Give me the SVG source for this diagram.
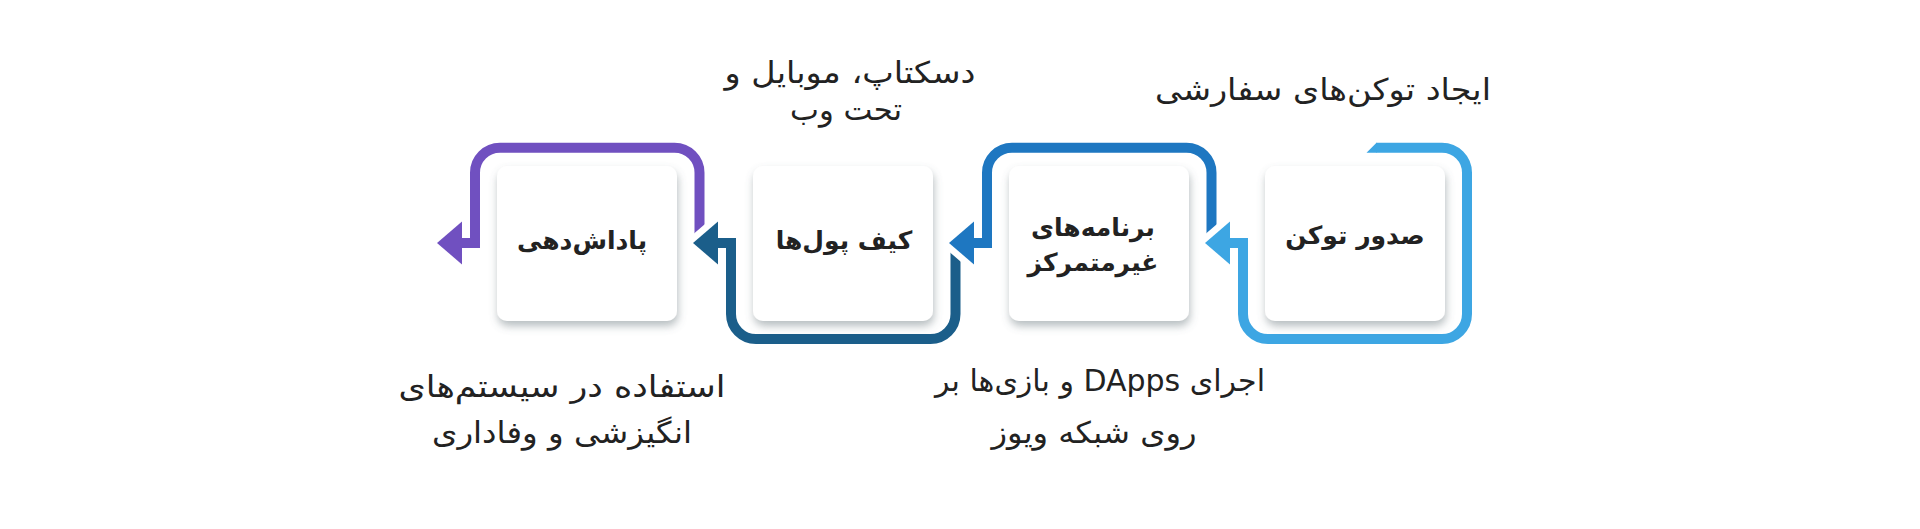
<svg xmlns="http://www.w3.org/2000/svg" width="1920" height="529" viewBox="0 0 1920 529">
<defs>
<filter id="sh" x="-20%" y="-20%" width="140%" height="150%">
<feDropShadow dx="1" dy="5" stdDeviation="4.5" flood-color="#5f6f75" flood-opacity="0.45"/>
</filter>
</defs>
<style>
.box{fill:#ffffff;filter:url(#sh)}
.lbl{font-family:"DejaVu Sans",sans-serif;font-weight:bold;font-size:25px;fill:#222222;text-anchor:middle;direction:rtl}
.note{font-family:"DejaVu Sans",sans-serif;font-size:30px;fill:#222222;text-anchor:middle;direction:rtl}
.ln{fill:none;stroke-width:10;stroke-linejoin:miter}
.halo{fill:#ffffff;stroke:#ffffff;stroke-width:13;stroke-linejoin:round}
.c1{stroke:#7050c0}
.f1{fill:#7050c0}
.c2{stroke:#1b5e8a}
.f2{fill:#1b5e8a}
.c3{stroke:#1e77c1}
.f3{fill:#1e77c1}
.c4{stroke:#3da6e3}
.f4{fill:#3da6e3}
</style>
<rect width="1920" height="529" fill="#ffffff"/>
<g id="connectors">
<path class="ln c1" d="M699.5,240 V172.7 A25,25 0 0 0 674.5,147.7 H500 A25,25 0 0 0 475,172.7 V243 H460"/>
<polygon class="f1" points="462,221.5 437,243 462,264.5"/>
<polygon class="halo" points="718,221.5 693,243 718,264.5"/>
<path class="ln c2" d="M955.5,250 V314 A25,25 0 0 1 930.5,339 H756 A25,25 0 0 1 731,314 V243 H716"/>
<polygon class="f2" points="718,221.5 693,243 718,264.5"/>
<polygon class="halo" points="974,221.5 949,243 974,264.5"/>
<path class="ln c3" d="M1211.5,240 V172.7 A25,25 0 0 0 1186.5,147.7 H1012 A25,25 0 0 0 987,172.7 V243 H972"/>
<polygon class="f3" points="974,221.5 949,243 974,264.5"/>
<polygon class="halo" points="1230,221.5 1205,243 1230,264.5"/>
<path class="ln c4" d="M1376,147.7 H1442 A25,25 0 0 1 1467,172.7 V314 A25,25 0 0 1 1442,339 H1268 A25,25 0 0 1 1243,314 V243 H1228"/>
<polygon class="f4" points="1230,221.5 1205,243 1230,264.5"/>
<polygon class="f4" points="1366.5,152.7 1376.5,142.7 1376.5,152.7"/>
</g>
<g id="node-reward">
<rect class="box" x="497" y="166" width="180" height="155" rx="10"/>
<text class="lbl" x="582" y="249">پاداش‌دهی</text>
</g>
<g id="node-wallets">
<rect class="box" x="753" y="166" width="180" height="155" rx="10"/>
<text class="lbl" x="844" y="249">کیف پول‌ها</text>
</g>
<g id="node-dapps">
<rect class="box" x="1009" y="166" width="180" height="155" rx="10"/>
<text class="lbl" x="1093" y="236">برنامه‌های</text>
<text class="lbl" x="1093" y="271">غیرمتمرکز</text>
</g>
<g id="node-issue">
<rect class="box" x="1265" y="166" width="180" height="155" rx="10"/>
<text class="lbl" x="1355" y="244">صدور توکن</text>
</g>
<g id="notes">
<text class="note" x="1323" y="100" textLength="336" lengthAdjust="spacingAndGlyphs">ایجاد توکن‌های سفارشی</text>
<text class="note" x="850" y="83" textLength="251" lengthAdjust="spacingAndGlyphs">دسکتاپ، موبایل و</text>
<text class="note" x="846" y="120" textLength="112" lengthAdjust="spacingAndGlyphs">تحت وب</text>
<text class="note" x="1100" y="391" textLength="330" lengthAdjust="spacingAndGlyphs">اجرای DApps و بازی‌ها بر</text>
<text class="note" x="1094" y="443" textLength="205" lengthAdjust="spacingAndGlyphs">روی شبکه ویوز</text>
<text class="note" x="562" y="397" textLength="327" lengthAdjust="spacingAndGlyphs">استفاده در سیستم‌های</text>
<text class="note" x="562" y="443" textLength="260" lengthAdjust="spacingAndGlyphs">انگیزشی و وفاداری</text>
</g>
</svg>
